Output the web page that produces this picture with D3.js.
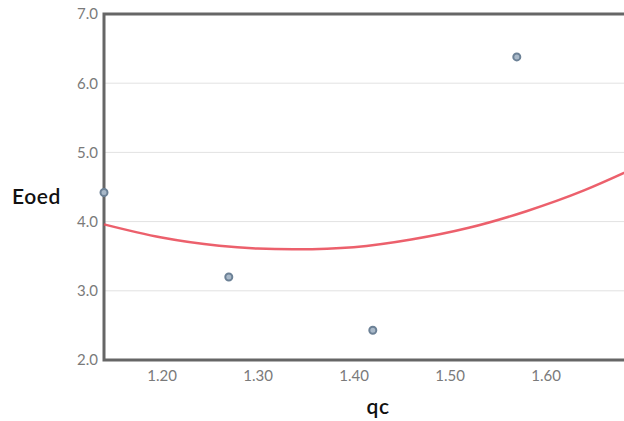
<!DOCTYPE html>
<html>
<head>
<meta charset="utf-8">
<script src="https://cdn.jsdelivr.net/npm/d3@7"></script>
<style>
  html, body { margin: 0; padding: 0; background: #fff; overflow: hidden; }
  svg { display: block; }
  .tick text { font-family: Lato, "Noto Sans", sans-serif; }
</style>
</head>
<body>
<script>
// Measured samples: cone resistance qc vs oedometric modulus Eoed
const qc = [1.14, 1.27, 1.42, 1.57];
const eoed = [4.42, 3.20, 2.43, 6.38];

// Trend curve read at regular qc steps
const trendQc = [1.14, 1.20, 1.26, 1.30, 1.34, 1.40, 1.46, 1.52, 1.58, 1.64, 1.70];
const trendEoed = [3.96, 3.77, 3.65, 3.61, 3.60, 3.63, 3.74, 3.91, 4.15, 4.45, 4.82];

const xTicks = [1.20, 1.30, 1.40, 1.50, 1.60];
const yTicks = [2.0, 3.0, 4.0, 5.0, 6.0, 7.0];

const W = 624, H = 421;
const plotLeft = 104, plotTop = 14, plotBottom = 360, plotRight = 680;

const svg = d3.select("body").append("svg")
  .attr("width", W).attr("height", H);

const x = d3.scaleLinear().domain([1.14, 1.74]).range([plotLeft, plotRight]);
const y = d3.scaleLinear().domain([2, 7]).range([plotBottom, plotTop]);

// horizontal grid
svg.append("g")
  .selectAll("line")
  .data(yTicks.filter(v => v > 2 && v < 7))
  .join("line")
  .attr("x1", plotLeft).attr("x2", plotRight)
  .attr("y1", d => y(d)).attr("y2", d => y(d))
  .attr("stroke", "#e2e2e2").attr("stroke-width", 1);

// y axis labels
const yAxis = svg.append("g")
  .attr("transform", `translate(${plotLeft},0)`)
  .call(d3.axisLeft(y).tickValues(yTicks).tickFormat(d3.format(".1f")).tickSize(0).tickPadding(6));
yAxis.select(".domain").remove();
yAxis.selectAll("text").attr("fill", "#7a7a7a").attr("font-size", 15);

// x axis labels
const xAxis = svg.append("g")
  .attr("transform", `translate(0,${plotBottom})`)
  .call(d3.axisBottom(x).tickValues(xTicks).tickFormat(d3.format(".2f")).tickSize(0).tickPadding(10));
xAxis.select(".domain").remove();
xAxis.selectAll("text").attr("fill", "#7a7a7a").attr("font-size", 15);

// frame
svg.append("path")
  .attr("d", `M${plotRight},${plotTop}H${plotLeft}V${plotBottom}H${plotRight}`)
  .attr("fill", "none").attr("stroke", "#666").attr("stroke-width", 3);

// trend curve
const trend = trendQc.map((q, i) => [q, trendEoed[i]]);
svg.append("path")
  .datum(trend)
  .attr("d", d3.line().x(d => x(d[0])).y(d => y(d[1])).curve(d3.curveNatural))
  .attr("fill", "none").attr("stroke", "#ea4f5c").attr("stroke-width", 2.5)
  .attr("stroke-opacity", 0.9);

// sample points
svg.append("g")
  .selectAll("circle")
  .data(qc.map((q, i) => [q, eoed[i]]))
  .join("circle")
  .attr("cx", d => x(d[0])).attr("cy", d => y(d[1]))
  .attr("r", 3.5)
  .attr("fill", "#a9b9c9").attr("stroke", "#6c8196").attr("stroke-width", 2);

// axis titles
svg.append("text")
  .attr("x", 12).attr("y", 204)
  .attr("font-family", "Lato, 'Noto Sans', sans-serif")
  .attr("font-size", 21).attr("font-weight", 600).attr("fill", "#111")
  .attr("letter-spacing", 0.6)
  .text("Eoed");

svg.append("text")
  .attr("x", 378).attr("y", 414)
  .attr("text-anchor", "middle")
  .attr("font-family", "Lato, 'Noto Sans', sans-serif")
  .attr("font-size", 21).attr("font-weight", 600).attr("fill", "#111")
  .attr("letter-spacing", 0.6)
  .text("qc");
</script>
</body>
</html>
